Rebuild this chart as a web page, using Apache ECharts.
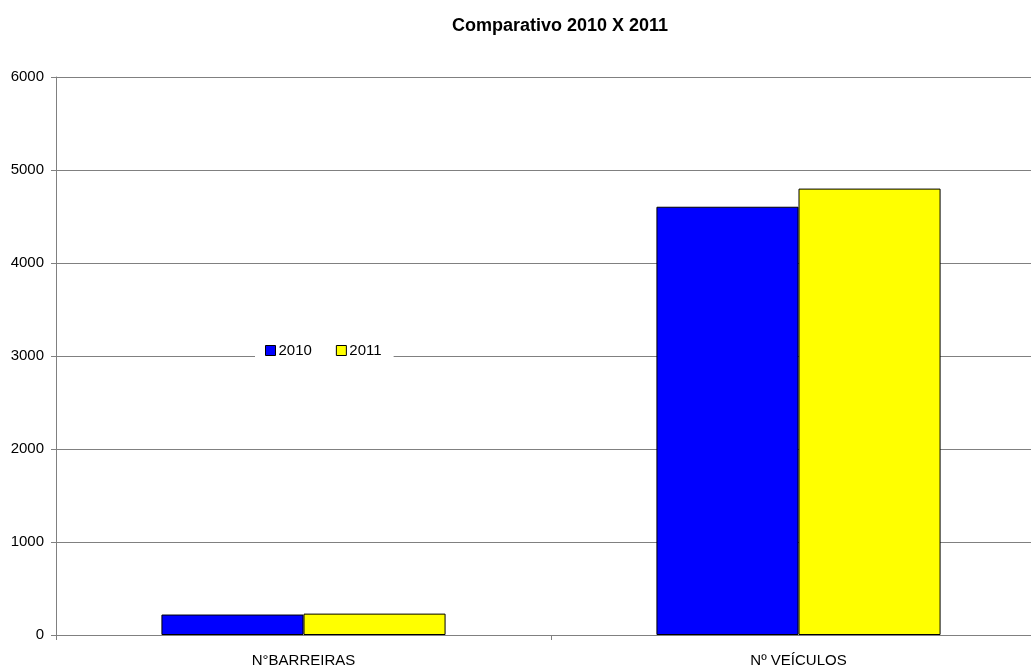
<!DOCTYPE html>
<html>
<head>
<meta charset="utf-8">
<script src="https://cdn.jsdelivr.net/npm/echarts@6/dist/echarts.min.js"></script>
<style>
  html, body { margin: 0; padding: 0; background: #fff; overflow: hidden; }
  /* o gráfico original é cortado à direita: a área de plotagem passa da janela */
  #main { width: 1046px; height: 666px; }
</style>
</head>
<body>
<div id="main"></div>
<script>
var categorias = ["N°BARREIRAS", "Nº VEÍCULOS"];
var anos = ["2010", "2011"];
var valores2010 = [220, 4605];
var valores2011 = [230, 4800];
var cores = ["#0000FF", "#FFFF00"];

var chart = echarts.init(document.getElementById("main"));

var option = {
  animation: false,
  title: {
    text: "Comparativo 2010 X 2011",
    left: 555,
    textAlign: "center",
    top: 12,
    textStyle: {
      fontFamily: "Liberation Sans",
      fontSize: 18,
      fontWeight: "bold",
      color: "#000"
    }
  },
  legend: {
    data: anos,
    left: 255,
    top: 341,
    icon: "rect",
    itemWidth: 10,
    itemHeight: 10,
    itemGap: 24,
    padding: [2, 12, 2, 10],
    backgroundColor: "#fff",
    itemStyle: { borderColor: "#000", borderWidth: 1 },
    textStyle: {
      fontFamily: "Liberation Sans",
      fontSize: 15,
      color: "#000",
      padding: [0, 0, 0, -2]
    }
  },
  grid: {
    left: 56,
    right: 0,
    top: 77,
    bottom: 31,
    containLabel: false,
    outerBoundsMode: "none"
  },
  xAxis: {
    type: "category",
    data: categorias,
    axisLine: { lineStyle: { color: "#808080", width: 1 } },
    axisTick: { show: true, length: 5, lineStyle: { color: "#808080" } },
    axisLabel: {
      margin: 18,
      fontFamily: "Liberation Sans",
      fontSize: 15,
      color: "#000"
    }
  },
  yAxis: {
    type: "value",
    min: 0,
    max: 6000,
    interval: 1000,
    axisLine: { show: true, lineStyle: { color: "#808080", width: 1 } },
    axisTick: { show: true, length: 5, lineStyle: { color: "#808080" } },
    axisLabel: {
      margin: 12,
      fontFamily: "Liberation Sans",
      fontSize: 15,
      color: "#000",
      formatter: function (v) { return String(v); }
    },
    splitLine: { show: true, lineStyle: { color: "#808080", width: 1 } }
  },
  series: [
    {
      name: anos[0],
      type: "bar",
      data: valores2010,
      barGap: "0%",
      barCategoryGap: "42.6%",
      itemStyle: { color: cores[0], borderColor: "#000", borderWidth: 1 }
    },
    {
      name: anos[1],
      type: "bar",
      data: valores2011,
      barGap: "0%",
      barCategoryGap: "42.6%",
      itemStyle: { color: cores[1], borderColor: "#000", borderWidth: 1 }
    }
  ]
};

chart.setOption(option);
</script>
</body>
</html>
